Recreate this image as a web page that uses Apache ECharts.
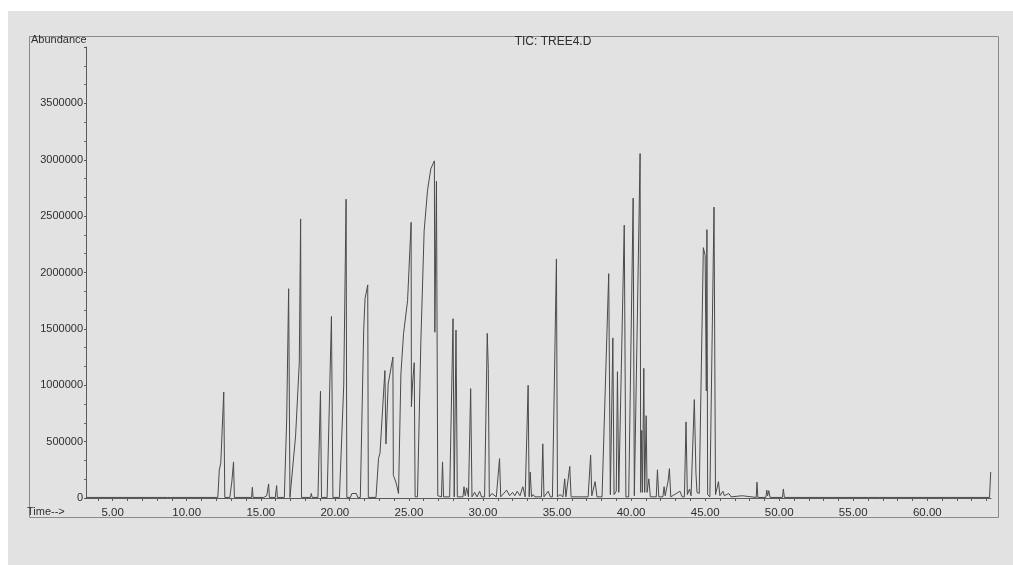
<!DOCTYPE html>
<html>
<head>
<meta charset="utf-8">
<script src="https://cdn.jsdelivr.net/npm/echarts@6/dist/echarts.min.js"></script>
<style>
html,body{margin:0;padding:0;background:#fff;}
#chart{width:1013px;height:565px;}
</style>
</head>
<body>
<div id="chart"></div>
<script>
// Retention time (min)
var times = [
 3.2, 7.8, 7.9, 8.0, 8.7, 8.8, 8.9,
 12.1, 12.2, 12.3, 12.5, 12.57,
 12.91, 13.05, 13.16, 13.22,
 14.38, 14.43, 14.48,
 15.2, 15.4, 15.53, 15.58,
 15.98, 16.07, 16.12,
 16.59, 16.75, 16.88, 16.97,
 17.06, 17.35, 17.6, 17.69, 17.75,
 18.35, 18.41, 18.47,
 18.86, 19.03, 19.1,
 19.48, 19.77, 19.87,
 20.31, 20.6, 20.76, 20.81,
 21.05, 21.15, 21.45, 21.55,
 21.72, 21.95, 22.04, 22.12, 22.22, 22.26,
 22.78, 22.95, 23.05, 23.38, 23.45, 23.6, 23.72, 23.92, 23.95, 24.1, 24.2, 24.3,
 24.46, 24.64, 24.91, 25.15, 25.17, 25.25, 25.36, 25.42,
 25.58, 25.81, 26.03, 26.26, 26.48, 26.72, 26.75, 26.86, 26.95,
 27.2, 27.27, 27.34,
 27.75, 27.98, 28.06, 28.18, 28.27,
 28.65, 28.72, 28.8, 28.9, 29.02, 29.17, 29.26,
 29.44, 29.6, 29.78, 29.9,
 30.11, 30.29, 30.36, 30.43,
 30.6, 30.9, 31.12, 31.2,
 31.6, 31.8, 32.0, 32.15, 32.31, 32.5, 32.69, 32.85,
 33.05, 33.12, 33.19, 33.28, 33.4, 33.5,
 33.95, 34.04, 34.12, 34.4, 34.55,
 34.69, 34.96, 35.03, 35.2, 35.4, 35.52, 35.6, 35.86, 35.95,
 37.1, 37.27, 37.35, 37.45, 37.57, 37.7,
 38.04, 38.49, 38.6, 38.77, 38.85, 39.0, 39.08, 39.17,
 39.27, 39.54, 39.65,
 39.84, 40.14, 40.22,
 40.3, 40.61, 40.65, 40.72, 40.77, 40.86, 40.92, 41.02, 41.08, 41.2, 41.3,
 41.7, 41.78, 41.87,
 42.15, 42.23, 42.3, 42.5, 42.59, 42.68,
 43.3, 43.45, 43.6, 43.71, 43.8, 43.95, 44.05,
 44.27, 44.38, 44.45, 44.6,
 44.88, 45.0, 45.08, 45.12, 45.17,
 45.32, 45.6, 45.7, 45.9, 46.0, 46.2, 46.3, 46.6, 46.75,
 47.5, 47.6, 48.45, 48.5, 48.56,
 49.1, 49.16, 49.22, 49.3, 49.38,
 50.22, 50.28, 50.35,
 56.05, 56.1, 56.15, 56.75, 56.8, 56.85,
 61.4, 61.5, 61.6, 64.2, 64.28
];
// Abundance (counts)
var abundance = [
 5000, 5000, 12000, 5000, 5000, 12000, 5000,
 5000, 250000, 310000, 940000, 5000,
 5000, 150000, 320000, 5000,
 5000, 95000, 5000,
 5000, 20000, 125000, 5000,
 5000, 110000, 5000,
 5000, 700000, 1856000, 5000,
 5000, 550000, 1200000, 2475000, 5000,
 5000, 40000, 5000,
 5000, 947000, 5000,
 5000, 1610000, 5000,
 5000, 1000000, 2650000, 5000,
 5000, 40000, 40000, 5000,
 5000, 1500000, 1770000, 1760000, 1890000, 5000,
 5000, 350000, 400000, 1130000, 480000, 1010000, 1020000, 1250000, 200000, 150000, 100000, 40000,
 1100000, 1460000, 1750000, 2445000, 810000, 1020000, 1200000, 10000,
 10000, 1400000, 2370000, 2730000, 2920000, 2990000, 1470000, 2810000, 20000,
 10000, 320000, 10000,
 10000, 1590000, 10000, 1490000, 10000,
 10000, 100000, 20000, 90000, 10000, 970000, 10000,
 50000, 10000, 60000, 10000,
 10000, 1460000, 1150000, 10000,
 40000, 10000, 350000, 10000,
 70000, 20000, 50000, 20000, 60000, 20000, 100000, 10000,
 1000000, 10000, 230000, 10000, 30000, 10000,
 10000, 480000, 10000, 60000, 10000,
 10000, 2120000, 10000, 30000, 10000, 170000, 10000, 280000, 10000,
 10000, 380000, 20000, 30000, 145000, 10000,
 10000, 1990000, 30000, 1420000, 30000, 60000, 1120000, 50000,
 50000, 2420000, 10000,
 10000, 2660000, 20000,
 20000, 3055000, 50000, 600000, 50000, 1150000, 50000, 730000, 50000, 170000, 10000,
 10000, 250000, 10000,
 10000, 100000, 20000, 150000, 260000, 10000,
 60000, 10000, 10000, 675000, 30000, 80000, 20000,
 873000, 220000, 50000, 40000,
 2220000, 2150000, 950000, 2380000, 30000,
 10000, 2580000, 30000, 145000, 20000, 60000, 20000, 40000, 10000,
 20000, 5000, 5000, 140000, 5000,
 5000, 70000, 20000, 65000, 5000,
 5000, 80000, 5000,
 5000, 15000, 5000, 5000, 12000, 5000,
 5000, 12000, 5000, 5000, 230000
];
var xTickValues = [];
for (var t = 4; t <= 64; t++) xTickValues.push(t);
var xLabelValues = [5, 10, 15, 20, 25, 30, 35, 40, 45, 50, 55, 60];
var titleText = 'TIC: TREE4.D';
var yName = 'Abundance';
var xName = 'Time-->';

var data = times.map(function (t, i) { return [t, abundance[i]]; });

var chart = echarts.init(document.getElementById('chart'), null, {renderer: 'canvas'});
var txt = '#2e2e2e';
var font = '"Liberation Sans", Arial, sans-serif';
chart.setOption({
  animation: false,
  backgroundColor: '#ffffff',
  graphic: [
    {type: 'rect', z: -10, silent: true, shape: {x: 8, y: 11, width: 1005, height: 554}, style: {fill: '#e2e2e2'}},
    {type: 'rect', z: -5, silent: true, shape: {x: 29.5, y: 36.5, width: 969, height: 481}, style: {fill: 'none', stroke: '#8a8a8a', lineWidth: 1}},
    {type: 'text', left: 31, top: 34, style: {text: yName, fontSize: 11, fontFamily: font, fill: txt}},
    {type: 'text', left: 27, top: 506, style: {text: xName, fontSize: 11, fontFamily: font, fill: txt}}
  ],
  title: {
    text: titleText, left: 548, top: 31, textAlign: 'center',
    textStyle: {fontSize: 12, fontWeight: 'normal', fontFamily: font, color: txt}
  },
  grid: {left: 86, right: 22, top: 47, bottom: 67},
  xAxis: {
    type: 'value', min: 3.2, max: 64.3,
    axisLine: {show: true, onZero: false, lineStyle: {color: '#5a5a5a', width: 1}},
    axisTick: {show: true, customValues: xTickValues, length: 3, lineStyle: {color: '#5a5a5a'}},
    axisLabel: {customValues: xLabelValues, formatter: function (v) { return v.toFixed(2); },
      fontSize: 11.5, fontFamily: font, color: txt, margin: 9},
    splitLine: {show: false}
  },
  yAxis: {
    type: 'value', min: 0, max: 4000000, interval: 500000,
    axisLine: {show: true, lineStyle: {color: '#5a5a5a', width: 1}},
    axisTick: {show: true, length: 2, lineStyle: {color: '#5a5a5a'}},
    minorTick: {show: true, splitNumber: 3, length: 2, lineStyle: {color: '#6a6a6a'}},
    axisLabel: {showMaxLabel: false, formatter: function (v) { return String(v); },
      fontSize: 11, fontFamily: font, color: txt, margin: 3},
    splitLine: {show: false}
  },
  series: [{
    type: 'line', data: data, showSymbol: false, symbol: 'none',
    lineStyle: {color: '#4a4a4a', width: 1}, z: 3
  }]
});
</script>
</body>
</html>
